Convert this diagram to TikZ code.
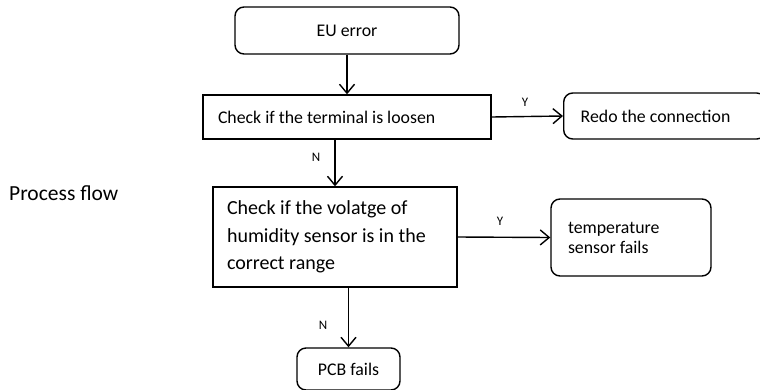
\documentclass[tikz,border=0pt]{standalone}
\usepackage{fontspec}
\setmainfont{Carlito}
\usetikzlibrary{arrows.meta}
\newcommand{\natsp}{\spaceskip=0pt\xspaceskip=0pt\relax}
\begin{document}
\begin{tikzpicture}[x=1pt,y=-1pt,
  box/.style={draw,line width=1.4pt,inner sep=0pt,font=\fontsize{17.8}{20}\selectfont},
  rbox/.style={box,rounded corners=9pt},
  arr/.style={line width=1.4pt,-{Straight Barb[length=9pt,width=15pt,line width=1.4pt]}},
  lbl/.style={font=\fontsize{13}{15}\selectfont,inner sep=0pt}]
\useasboundingbox (0,0) rectangle (760,389);
\node[rbox,minimum width=224pt,minimum height=47pt] (eu) at (347,30.5) {EU error};
\node[box,minimum width=288pt,minimum height=44pt,text width=258pt,align=left] (t) at (347,117) {\natsp Check if the terminal is loosen\\[-4pt]};
\node[rbox,minimum width=202pt,minimum height=46pt,text width=168pt,align=left,anchor=west] (redo) at (563,116) {\natsp Redo the connection\\[-4pt]};
\node[box,minimum width=244pt,minimum height=100pt,text width=216pt,align=left,font=\fontsize{20}{27.5}\selectfont] (v) at (335,237) {\natsp Check if the volatge of\\humidity sensor is in the\\correct range};
\node[rbox,minimum width=160pt,minimum height=77pt,text width=126pt,align=left] (temp) at (631,237.5) {\natsp temperature\\sensor fails\\[-2pt]};
\node[rbox,minimum width=103pt,minimum height=42pt] (pcb) at (348.5,369) {PCB fails};
\node[font=\fontsize{21.5}{25}\selectfont,anchor=west,inner sep=0pt] (pf) at (9,193) {Process flow};
\draw[arr] (eu.south) -- (eu.south |- t.north);
\draw[arr] (t.east) -- (redo.west);
\draw[arr] (v.north |- t.south) -- (v.north);
\draw[arr] (v.east) -- (temp.west);
\draw[arr] (pcb.north |- v.south) -- (pcb.north);
\node[lbl] (y1) at (525,102) {Y};
\node[lbl] (y2) at (500,221) {Y};
\node[lbl] (n1) at (316,157) {N};
\node[lbl] (n2) at (323,325) {N};
\end{tikzpicture}
\end{document}
